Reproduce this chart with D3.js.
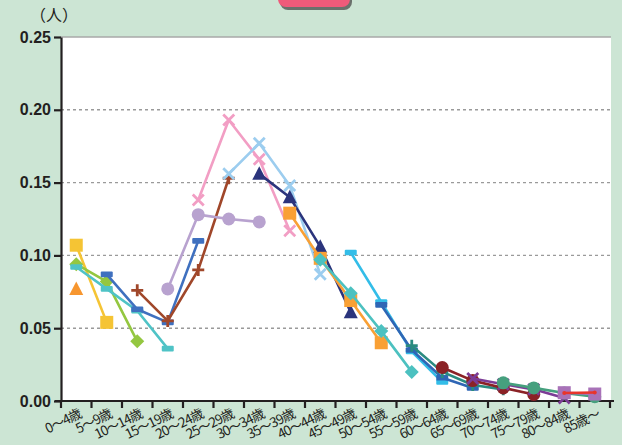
<!DOCTYPE html>
<html><head><meta charset="utf-8">
<script src="https://cdn.jsdelivr.net/npm/d3@7"></script>
<style>html,body{margin:0;padding:0;background:#cce5d4;}svg{display:block;}</style>
</head><body>
<svg id="c" width="622" height="445"></svg>
<script>
const categories = ["0〜4歳","5〜9歳","10〜14歳","15〜19歳","20〜24歳","25〜29歳","30〜34歳","35〜39歳","40〜44歳","45〜49歳","50〜54歳","55〜59歳","60〜64歳","65〜69歳","70〜74歳","75〜79歳","80〜84歳","85歳〜"];
const yTicks = [0, 0.05, 0.10, 0.15, 0.20, 0.25];
const yUnit = "（人）";

// each series: values beginning at its start category index
const seriesStarts = [0, 0, 0, 0, 1, 2, 3, 4, 5, 6, 7, 8, 9, 10, 11, 12, 13, 14, 16, 16];
const sYellowSq   = [0.107, 0.054];
const sOrangeTri  = [0.077];
const sGreenDia   = [0.094, 0.082, 0.041];
const sTealDash   = [0.092, 0.077, 0.062, 0.036];
const sBlueDash   = [0.087, 0.063, 0.054, 0.110];
const sBrownPlus  = [0.076, 0.055, 0.090, 0.153];
const sLavCircle  = [0.077, 0.128, 0.125, 0.123];
const sPinkX      = [0.138, 0.193, 0.166, 0.117];
const sLBlueX     = [0.156, 0.177, 0.148, 0.087];
const sNavyTri    = [0.156, 0.140, 0.106, 0.061];
const sOrangeSq   = [0.129, 0.098, 0.069, 0.040];
const sTealDia    = [0.097, 0.074, 0.048, 0.020];
const sCyanDash   = [0.102, 0.068, 0.034, 0.013];
const sDBlueDash  = [0.066, 0.035, 0.016, 0.009];
const sDTealPlus  = [0.038, 0.020, 0.011, 0.008];
const sDRedCircle = [0.023, 0.014, 0.009, 0.0045];
const sPurpleX    = [0.0155, 0.0115, 0.008, 0.002];
const sGreenCirc  = [0.0125, 0.009, 0.0055, 0.003];
const sMauveSq    = [0.0057, 0.0048];
const sRedSmall   = [0.0055, 0.0058];

const seriesValues = [sYellowSq,sOrangeTri,sGreenDia,sTealDash,sBlueDash,sBrownPlus,sLavCircle,sPinkX,sLBlueX,sNavyTri,sOrangeSq,sTealDia,sCyanDash,sDBlueDash,sDTealPlus,sDRedCircle,sPurpleX,sGreenCirc,sMauveSq,sRedSmall];
const seriesColors = ["#f5c434","#f7962f","#94c740","#4fc3c6","#3f70bf","#a0472a","#b8a2cf","#f29ec4","#9ccdef","#2b347c","#f9a034","#4cc1c0","#33bde8","#2f66b5","#2a8b80","#8b2226","#7c3c96","#46a07e","#a872b8","#e8352c"];
const seriesMarkers = ["square","triangle","diamond","dash","dash","plus","circle","x","x","triangle","square","diamond","dash","dash","plus","circle","x","circle","square","smallcircle"];

const svg = d3.select("#c");
const L = 61, R = 610, T = 37, B = 401;

// top pink tab
svg.append("rect").attr("x",280).attr("y",-20).attr("width",72).attr("height",30).attr("rx",8).attr("fill","#4a4a4a").attr("opacity",0.75);
svg.append("rect").attr("x",278).attr("y",-20).attr("width",72).attr("height",27).attr("rx",8).attr("fill","#ef5a7a");

svg.append("rect").attr("x",L).attr("y",T).attr("width",611-L).attr("height",B-T).attr("fill","#fff");
svg.append("line").attr("x1",L).attr("x2",611).attr("y1",T).attr("y2",T).attr("stroke","#a9a9a9").attr("stroke-width",1.5);

const x = d3.scaleBand().domain(categories).range([L, R]).padding(0);
const y = d3.scaleLinear().domain([0, 0.25]).range([B, T]);

// grid
svg.append("g").selectAll("line").data(yTicks.filter(t => t > 0 && t < 0.25)).join("line")
  .attr("x1",L).attr("x2",611).attr("y1",d=>y(d)).attr("y2",d=>y(d))
  .attr("stroke","#9a9a9a").attr("stroke-width",1.4).attr("stroke-dasharray","3,3");

// y axis
const yAxis = d3.axisLeft(y).tickValues(yTicks).tickFormat(d3.format(".2f")).tickSize(7).tickSizeOuter(0);
const ga = svg.append("g").attr("transform",`translate(${L},0)`).call(yAxis);
ga.select(".domain").attr("stroke","#231f20").attr("stroke-width",2.2);
ga.selectAll(".tick line").attr("stroke","#231f20").attr("stroke-width",2.2);
ga.selectAll(".tick text").attr("font-family","Liberation Sans, Arial, sans-serif").attr("font-size",16).attr("font-weight","bold").attr("fill","#231f20").attr("x",-10);

svg.append("text").attr("x",30).attr("y",21).text(yUnit).attr("font-family","Noto Sans CJK JP").attr("font-size",16).attr("fill","#231f20");

// x axis
const xAxis = d3.axisBottom(x).tickSize(0).tickFormat("");
const gx = svg.append("g").attr("transform",`translate(0,${B})`).call(xAxis);
gx.select(".domain").remove();
svg.append("line").attr("x1",L-6).attr("x2",614).attr("y1",B).attr("y2",B).attr("stroke","#231f20").attr("stroke-width",2.2);
const bounds = categories.map(c => x(c)).concat([R]);
svg.append("g").selectAll("line").data(bounds).join("line")
  .attr("x1",d=>d).attr("x2",d=>d).attr("y1",B).attr("y2",B+7).attr("stroke","#231f20").attr("stroke-width",2.2);
svg.append("g").selectAll("text").data(categories).join("text")
  .attr("transform",d=>`translate(${x(d)+x.bandwidth()/2+6},${B+16}) rotate(-26)`)
  .attr("text-anchor","end")
  .attr("font-family","Noto Sans CJK JP").attr("font-size",13.5).attr("fill","#231f20").attr("letter-spacing",-1)
  .text(d=>d);

// series
const cx = i => x(categories[i]) + x.bandwidth()/2;
const line = d3.line().x(d=>cx(d.i)).y(d=>y(d.v));
function drawMarker(g, type, color, px, py){
  if (type === "square") g.append("rect").attr("x",px-6.5).attr("y",py-6.5).attr("width",13).attr("height",13).attr("fill",color);
  else if (type === "triangle") g.append("path").attr("d",`M${px},${py-7.5}L${px+7},${py+6}L${px-7},${py+6}Z`).attr("fill",color);
  else if (type === "diamond") g.append("path").attr("d",`M${px},${py-7}L${px+7},${py}L${px},${py+7}L${px-7},${py}Z`).attr("fill",color);
  else if (type === "dash") g.append("rect").attr("x",px-6).attr("y",py-2.8).attr("width",12).attr("height",5.6).attr("rx",1).attr("fill",color);
  else if (type === "circle") g.append("circle").attr("cx",px).attr("cy",py).attr("r",6.5).attr("fill",color);
  else if (type === "smallcircle") g.append("circle").attr("cx",px).attr("cy",py).attr("r",2).attr("fill",color);
  else if (type === "plus") g.append("path").attr("d",`M${px-6},${py}H${px+6}M${px},${py-6}V${py+6}`).attr("stroke",color).attr("stroke-width",2.8);
  else if (type === "x") g.append("path").attr("d",`M${px-5.5},${py-5.5}L${px+5.5},${py+5.5}M${px+5.5},${py-5.5}L${px-5.5},${py+5.5}`).attr("stroke",color).attr("stroke-width",2.8);
}
seriesValues.forEach((vals, k) => {
  const pts = vals.map((v, j) => ({i: seriesStarts[k] + j, v}));
  const g = svg.append("g");
  if (pts.length > 1) g.append("path").datum(pts).attr("d", line).attr("fill","none").attr("stroke",seriesColors[k]).attr("stroke-width",2.6).attr("stroke-linejoin","round");
  pts.forEach(p => drawMarker(g, seriesMarkers[k], seriesColors[k], cx(p.i), y(p.v)));
});
</script>
</body></html>
